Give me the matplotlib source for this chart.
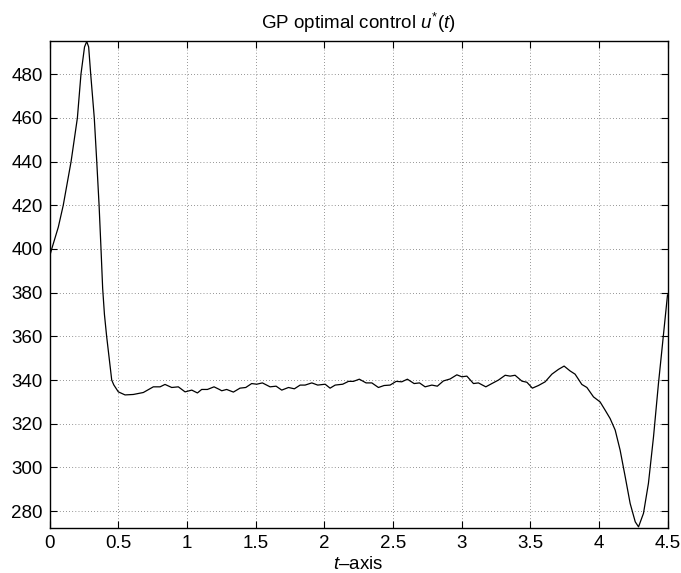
import matplotlib
matplotlib.use("Agg")
import matplotlib.pyplot as plt

plt.rcParams["font.family"] = ["Liberation Sans", "DejaVu Sans"]
plt.rcParams["mathtext.fontset"] = "custom"
plt.rcParams["mathtext.rm"] = "Liberation Sans"
plt.rcParams["mathtext.it"] = "Liberation Sans:italic"

# values
t = [0.0, 0.016, 0.064, 0.10, 0.157, 0.203, 0.229, 0.255, 0.271, 0.285,
     0.300, 0.326, 0.344, 0.361, 0.375, 0.387, 0.400, 0.416, 0.453, 0.468,
     0.501, 0.55, 0.61, 0.683, 0.756, 0.805, 0.841, 0.89, 0.938, 0.987,
     1.036, 1.077, 1.108, 1.15, 1.198, 1.237, 1.254, 1.29, 1.339, 1.387,
     1.429, 1.472, 1.509, 1.55, 1.606, 1.65, 1.691, 1.74, 1.783, 1.825,
     1.861, 1.91, 1.953, 2.007, 2.043, 2.08, 2.135, 2.177, 2.213, 2.256,
     2.305, 2.347, 2.395, 2.436, 2.48, 2.524, 2.565, 2.606, 2.655, 2.694,
     2.735, 2.784, 2.824, 2.868, 2.917, 2.966, 3.002, 3.039, 3.087, 3.123,
     3.177, 3.221, 3.269, 3.318, 3.354, 3.39, 3.44, 3.476, 3.516, 3.56,
     3.609, 3.658, 3.706, 3.747, 3.79, 3.827, 3.876, 3.913, 3.961, 4.009,
     4.046, 4.082, 4.119, 4.155, 4.192, 4.228, 4.265, 4.289, 4.325, 4.361,
     4.398, 4.434, 4.459, 4.5]
u = [396.4, 400.0, 410.0, 420.0, 440.0, 460.0, 480.0, 492.5, 495.0, 492.5,
     480.0, 460.0, 440.0, 420.0, 400.0, 382.0, 370.0, 360.0, 340.0, 337.8,
     334.6, 333.2, 333.4, 334.3, 336.9, 336.9, 338.0, 336.6, 336.9, 334.6,
     335.4, 334.1, 335.7, 335.7, 336.9, 335.7, 335.1, 335.7, 334.5, 336.3,
     336.6, 338.4, 338.1, 338.7, 336.9, 337.2, 335.4, 336.6, 336.0, 337.7,
     337.7, 338.7, 337.7, 338.1, 336.3, 337.7, 338.1, 339.4, 339.4, 340.4,
     338.7, 338.7, 336.6, 337.5, 337.7, 339.4, 339.2, 340.4, 338.4, 338.7,
     336.9, 337.7, 337.2, 339.6, 340.5, 342.4, 341.5, 341.8, 338.4, 338.7,
     336.9, 338.4, 340.0, 342.2, 341.8, 342.2, 339.5, 339.0, 336.3, 337.5,
     339.2, 342.7, 344.9, 346.4, 344.2, 342.7, 338.0, 336.6, 332.3, 330.0,
     326.2, 322.4, 317.1, 307.9, 295.7, 283.5, 275.1, 272.8, 279.0, 292.7,
     314.0, 338.4, 353.7, 379.0]

x_ticks = [0, 0.5, 1, 1.5, 2, 2.5, 3, 3.5, 4, 4.5]
x_ticklabels = ["0", "0.5", "1", "1.5", "2", "2.5", "3", "3.5", "4", "4.5"]
y_ticks = [280, 300, 320, 340, 360, 380, 400, 420, 440, 460, 480]

fig = plt.figure(figsize=(6.81, 5.73), dpi=100)
ax = fig.add_axes([0.0727, 0.079, 0.9075, 0.8494])

ax.plot(t, u, color="black", linewidth=0.9)

ax.set_xlim(0, 4.5)
ax.set_ylim(272.4, 495.2)
ax.set_xticks(x_ticks)
ax.set_xticklabels(x_ticklabels)
ax.set_yticks(y_ticks)

# MATLAB-like box: ticks inside on all sides, dotted grid
ax.tick_params(direction="in", top=True, right=True, length=5, width=0.8,
               labelsize=13.5, pad=5)
ax.grid(True, color="#333333", linestyle=(0, (1, 3.5)), linewidth=0.5)
for s in ax.spines.values():
    s.set_linewidth(1.0)

ax.set_title("GP optimal control $u^{*}(t)$", fontsize=13.5, pad=9)
ax.set_xlabel("$t$\u2013axis", fontsize=13.5, labelpad=3)

fig.savefig("out.png", dpi=100)
